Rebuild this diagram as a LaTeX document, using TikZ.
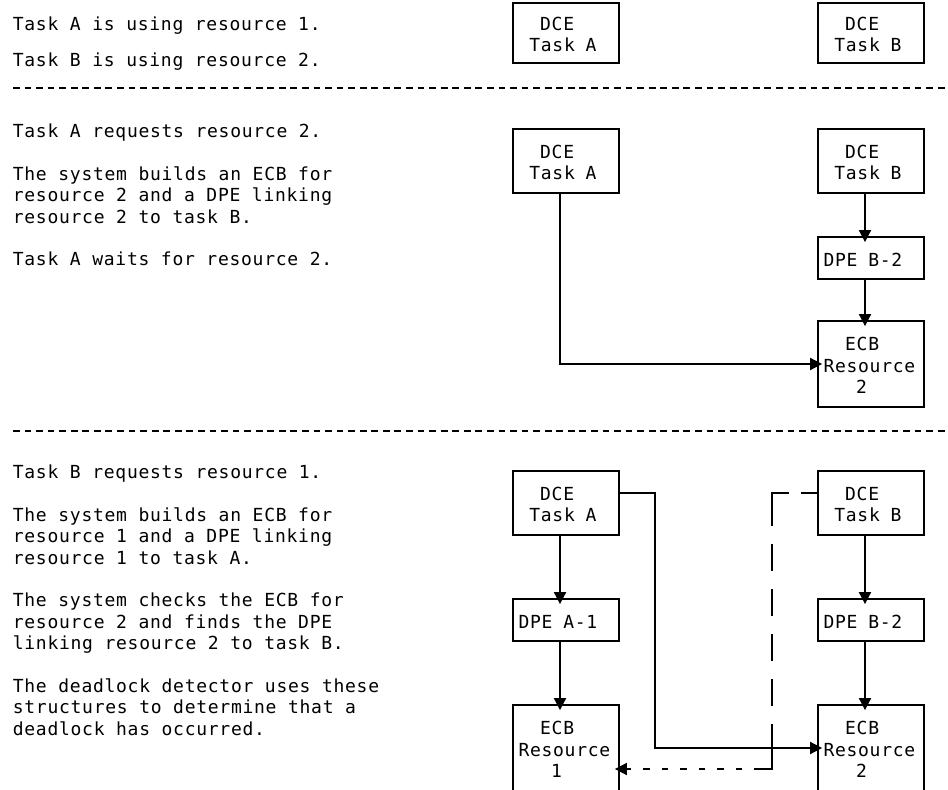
\documentclass[tikz,border=0pt]{standalone}
\usepackage{fontspec}
\newfontfamily\monof[LetterSpace=4.0]{DejaVu Sans Mono}
\usetikzlibrary{arrows.meta}
% strut that fixes the height of the first line of every text block
\newcommand\firstln{\rule{0pt}{16pt}}
% 18pt mono, letter-spaced to an 11.56pt cell; spaces take one full cell
\newcommand\monosize{\fontsize{18pt}{21.4pt}\selectfont\monof
  \spaceskip=11.56pt\relax\xspaceskip=11.56pt\relax}
% one empty character cell (used inside the boxes)
\newcommand\gap{\phantom{x}}
\begin{document}
\begin{tikzpicture}[x=1pt,y=-1pt,
  txt/.style={font=\monosize, inner sep=0pt, align=left, anchor=north west},
  box/.style={draw, line width=1.8pt, font=\monosize, text width=95pt,
              inner xsep=5.5pt, inner ysep=0pt, align=left},
  arr/.style={line width=1.8pt, -{Triangle[length=12pt,width=12pt]}, shorten >=-6pt},
  sep/.style={line width=2pt, dash pattern=on 6.8pt off 4.76pt},
  req/.style={line width=1.8pt}]
\useasboundingbox (0,0) rectangle (948,790);

% ---------- state 1: both tasks hold a resource ----------
\node[txt] (p1) at (12.7,14) {\firstln Task A is using resource 1.};
\node[txt] (p2) at (12.7,50) {\firstln Task B is using resource 2.};
\node[box, minimum height=60pt] (a1) at (566,33) {\firstln\gap\gap DCE\\\gap Task\gap A};
\node[box, minimum height=60pt] (b1) at (871,33) {\firstln\gap\gap DCE\\\gap Task\gap B};
\draw[sep] (13,88) -- (948,88);

% ---------- state 2: task A waits for resource 2 ----------
\node[txt] (p3) at (12.7,121) {\firstln Task A requests resource 2.};
\node[txt] (p4) at (12.7,164) {\firstln The system builds an ECB for\\resource 2 and a DPE linking\\resource 2 to task B.};
\node[txt] (p5) at (12.7,249) {\firstln Task A waits for resource 2.};
\node[box, minimum height=64pt] (a2) at (566,161) {\firstln\gap\gap DCE\\\gap Task\gap A};
\node[box, minimum height=64pt] (b2) at (871,161) {\firstln\gap\gap DCE\\\gap Task\gap B};
\node[box, minimum height=42pt] (db2) at (871,258) {\firstln DPE\gap B-2};
\node[box, minimum height=86pt] (eb2) at (871,364) {\firstln\gap\gap ECB\\Resource\\\gap\gap\gap 2};
\draw[arr] ([xshift=-6pt]b2.south) -- ([xshift=-6pt]db2.north);
\draw[arr] ([xshift=-6pt]db2.south) -- ([xshift=-6pt]eb2.north);
\draw[arr, shorten >=-5pt] ([xshift=-6pt]a2.south) |- (eb2.west);
\draw[sep] (13,431) -- (948,431);

% ---------- state 3: task B requests resource 1, deadlock ----------
\node[txt] (p6) at (12.7,462) {\firstln Task B requests resource 1.};
\node[txt] (p7) at (12.7,505) {\firstln The system builds an ECB for\\resource 1 and a DPE linking\\resource 1 to task A.};
\node[txt] (p8) at (12.7,590.5) {\firstln The system checks the ECB for\\resource 2 and finds the DPE\\linking resource 2 to task B.};
\node[txt] (p9) at (12.7,676) {\firstln The deadlock detector uses these\\structures to determine that a\\deadlock has occurred.};
\node[box, minimum height=64pt] (a3) at (566,503) {\firstln\gap\gap DCE\\\gap Task\gap A};
\node[box, minimum height=64pt] (b3) at (871,503) {\firstln\gap\gap DCE\\\gap Task\gap B};
\node[box, minimum height=42pt] (da) at (566,620) {\firstln DPE\gap A-1};
\node[box, minimum height=42pt] (db3) at (871,620) {\firstln DPE\gap B-2};
\node[box, minimum height=86pt] (ea) at (566,748) {\firstln\gap\gap ECB\\Resource\\\gap\gap\gap 1};
\node[box, minimum height=86pt] (eb3) at (871,748) {\firstln\gap\gap ECB\\Resource\\\gap\gap\gap 2};
\draw[arr] ([xshift=-6pt]a3.south) -- ([xshift=-6pt]da.north);
\draw[arr] ([xshift=-6pt]da.south) -- ([xshift=-6pt]ea.north);
\draw[arr] ([xshift=-6pt]b3.south) -- ([xshift=-6pt]db3.north);
\draw[arr] ([xshift=-6pt]db3.south) -- ([xshift=-6pt]eb3.north);
% task A holds resource 1 and now points at resource 2
\draw[arr, shorten >=-5pt] ([yshift=10pt]a3.east) -- ++(35,0) |- (eb3.west);
% task B's new request for resource 1 (dashed)
\path ([yshift=10pt]b3.west) coordinate (dstart);
\path ([xshift=-45pt]b3.west) coordinate (dcol);
\path ([yshift=-21pt]ea.east) coordinate (dend);
\coordinate (dtop) at (dcol |- dstart);
\coordinate (dturn) at (dcol |- dend);
\draw[req, dash pattern=on 16.5pt off 12pt on 30pt] (dstart) -- (dtop);
\draw[req, line cap=rect, dash pattern=on 32pt off 20pt on 25pt off 20pt on 25pt off 20pt on 25pt off 20pt on 25pt off 20pt on 60pt] (dtop) -- (dturn);
\draw[arr, shorten >=-5pt, dash pattern=on 18pt off 12pt on 6.5pt off 12pt on 6.5pt off 12pt on 6.5pt off 12pt on 6.5pt off 12pt on 6.5pt off 12pt on 6.5pt off 12pt on 6.5pt off 12pt on 20pt] (dturn) -- (dend);
\end{tikzpicture}
\end{document}
